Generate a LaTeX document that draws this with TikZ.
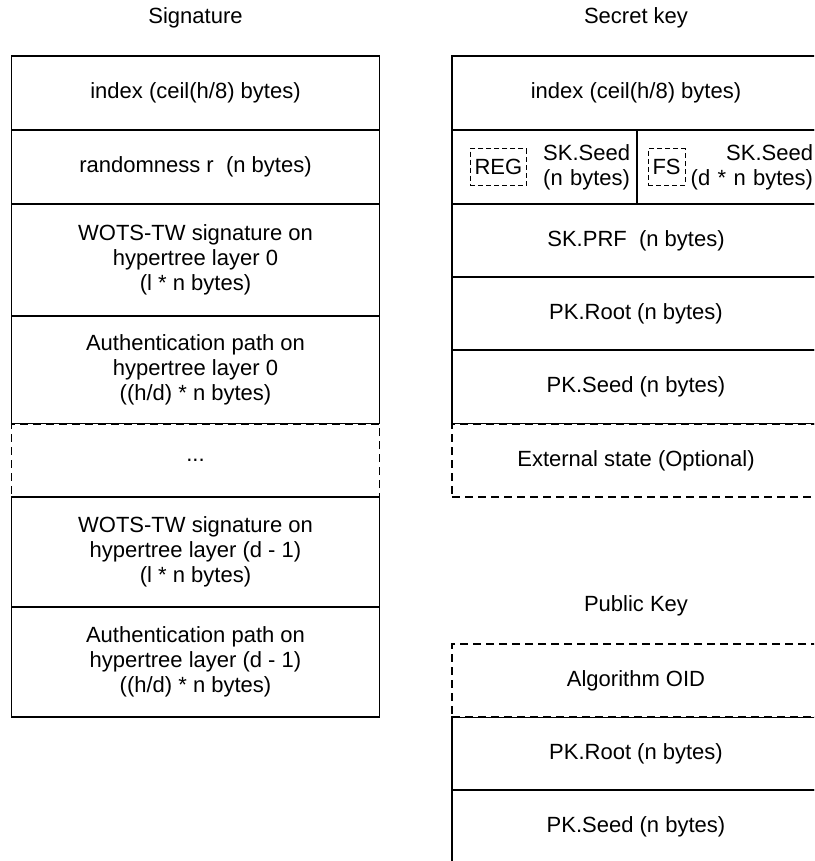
\documentclass[tikz,border=0pt]{standalone}
\usepackage{fontspec}
\setmainfont{Liberation Sans}
\usetikzlibrary{positioning}

\begin{document}
\begin{tikzpicture}[x=1pt, y=-1pt,
  field/.style={draw, line width=1.3pt, minimum width=368pt, outer sep=0pt,
    inner sep=0pt, align=center, font=\fontsize{22}{25}\selectfont},
  optfield/.style={field, dashed, dash pattern=on 8pt off 5pt, fill=white},
  half/.style={field, minimum width=0pt, inner xsep=7pt, align=right, minimum height=74pt},
  tag/.style={draw, line width=1pt, dash pattern=on 5pt off 3pt, inner xsep=4.5pt,
    inner ysep=0pt, minimum height=36pt, outer sep=0pt, font=\fontsize{22}{25}\selectfont},
  title/.style={font=\fontsize{22}{25}\selectfont}]
  \useasboundingbox (0,0) rectangle (814,861);
  \clip (0,0) rectangle (814,861);

  % Signature
  \node[title] (sigtitle) at (195.5,18) {Signature};
  \node[field, minimum height=74pt, anchor=north] (sigidx) at (195.5,56) {index (ceil(h/8) bytes)};
  \node[field, minimum height=74pt, below=0pt of sigidx] (sigrand) {randomness r~~(n bytes)};
  \node[field, minimum height=112pt, below=0pt of sigrand] (sigwots) {WOTS-TW signature on\\hypertree layer 0\\(l * n bytes)};
  \node[field, minimum height=108pt, below=0pt of sigwots] (sigauth) {Authentication path on\\hypertree layer 0\\((h/d) * n bytes)};
  \node[optfield, minimum height=73pt, below=0pt of sigauth] (sigdots) {...};
  \node[field, minimum height=110pt, below=0pt of sigdots] (sigwotsb) {WOTS-TW signature on\\hypertree layer (d - 1)\\(l * n bytes)};
  \node[field, minimum height=110pt, below=0pt of sigwotsb] (sigauthb) {Authentication path on\\hypertree layer (d - 1)\\((h/d) * n bytes)};

  % Secret key
  \node[title] (sktitle) at (636,18) {Secret key};
  \node[field, minimum height=74pt, anchor=north] (skidx) at (636,56) {index (ceil(h/8) bytes)};
  \node[half, text width=171pt, below right=0pt and 0pt of skidx.south west] (skreg) {SK.Seed\\(n bytes)};
  \node[half, text width=169pt, right=0pt of skreg] (skfs) {SK.Seed\\(d * n bytes)};
  \node[tag, right=18pt of skreg.west] (regtag) {REG};
  \node[tag, right=11pt of skfs.west] (fstag) {FS};
  \node[field, minimum height=73pt, below right=0pt and 0pt of skreg.south west] (skprf) {SK.PRF~~(n bytes)};
  \node[field, minimum height=73pt, below=0pt of skprf] (skroot) {PK.Root (n bytes)};
  \node[field, minimum height=74pt, below=0pt of skroot] (skseed) {PK.Seed (n bytes)};
  \node[optfield, minimum height=73pt, below=0pt of skseed] (skext) {External state (Optional)};

  % Public key
  \node[title] (pktitle) at (636,606) {Public Key};
  \node[field, minimum height=73pt, anchor=north] (pkroot) at (636,717) {PK.Root (n bytes)};
  \node[field, minimum height=73pt, below=0pt of pkroot] (pkseed) {PK.Seed (n bytes)};
  \node[optfield, minimum height=73pt, above=0pt of pkroot] (pkoid) {Algorithm OID};
\end{tikzpicture}
\end{document}
